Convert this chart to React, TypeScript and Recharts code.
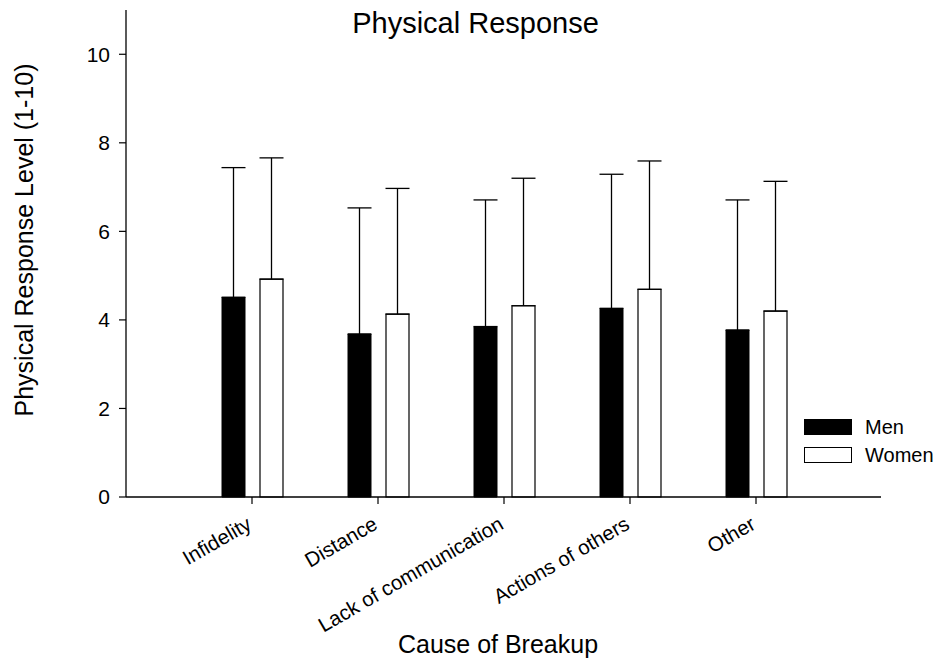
import React from "react";
import { BarChart, Bar, XAxis, YAxis, ErrorBar, Legend } from "recharts";

const causes = ["Infidelity", "Distance", "Lack of communication", "Actions of others", "Other"];
const menMeans = [4.51, 3.68, 3.85, 4.26, 3.77];
const menErrors = [2.93, 2.85, 2.86, 3.03, 2.94];
const womenMeans = [4.92, 4.13, 4.32, 4.69, 4.2];
const womenErrors = [2.74, 2.84, 2.88, 2.9, 2.93];
const yTicks = [0, 2, 4, 6, 8, 10];

const title = "Physical Response";
const xLabel = "Cause of Breakup";
const yLabel = "Physical Response Level (1-10)";

const data = causes.map((c, i) => ({
  cause: c,
  men: menMeans[i],
  menErr: [0, menErrors[i]],
  women: womenMeans[i],
  womenErr: [0, womenErrors[i]],
}));

const FONT = "'Liberation Sans', Arial, Helvetica, sans-serif";

const AngledTick = (props: any) => {
  const { x, y, payload } = props;
  const ax = x + 1;
  const ay = y + 22;
  return (
    <text
      x={ax}
      y={ay}
      textAnchor="end"
      transform={`rotate(-30, ${ax}, ${ay})`}
      fontSize={20.5}
      fontFamily={FONT}
      fill="#000"
    >
      {payload.value}
    </text>
  );
};

const LegendContent = () => (
  <div style={{ fontFamily: FONT, fontSize: 20, color: "#000" }}>
    <div style={{ display: "flex", alignItems: "center", height: 28 }}>
      <div style={{ width: 48, height: 16, background: "#000", boxSizing: "border-box" }} />
      <span style={{ marginLeft: 13 }}>Men</span>
    </div>
    <div style={{ display: "flex", alignItems: "center", height: 28 }}>
      <div style={{ width: 48, height: 16, background: "#fff", border: "1px solid #000", boxSizing: "border-box" }} />
      <span style={{ marginLeft: 13 }}>Women</span>
    </div>
  </div>
);

export default function App() {
  return (
    <div style={{ position: "absolute", left: 0, top: 0, width: 940, height: 662, background: "#fff" }}>
      <BarChart
        width={940}
        height={662}
        data={data}
        margin={{ top: 10, right: 59, bottom: 65, left: 66 }}
        barSize={23}
        barGap={15}
      >
        <XAxis
          dataKey="cause"
          type="category"
          padding={{ left: 63, right: 62 }}
          height={100}
          tickSize={7}
          interval={0}
          tick={<AngledTick />}
          axisLine={{ stroke: "#000", strokeWidth: 1.3 }}
          tickLine={{ stroke: "#000", strokeWidth: 1.2 }}
        />
        <YAxis
          type="number"
          domain={[0, 11]}
          ticks={yTicks}
          width={60}
          tickSize={7}
          tickMargin={9}
          tick={{ fontSize: 21, fontFamily: FONT, fill: "#000" }}
          axisLine={{ stroke: "#000", strokeWidth: 1.3 }}
          tickLine={{ stroke: "#000", strokeWidth: 1.2 }}
        />
        <Legend
          layout="vertical"
          align="center"
          verticalAlign="middle"
          content={<LegendContent />}
          wrapperStyle={{ position: "absolute", left: 804, top: 413, width: 130 }}
        />
        <Bar dataKey="men" name="Men" fill="#000" stroke="#000" strokeWidth={1} isAnimationActive={false}>
          <ErrorBar dataKey="menErr" width={12} stroke="#000" strokeWidth={1.3} direction="y" isAnimationActive={false} />
        </Bar>
        <Bar dataKey="women" name="Women" fill="#fff" stroke="#000" strokeWidth={1.2} isAnimationActive={false}>
          <ErrorBar dataKey="womenErr" width={12} stroke="#000" strokeWidth={1.3} direction="y" isAnimationActive={false} />
        </Bar>
      </BarChart>
      <svg
        width={940}
        height={662}
        style={{ position: "absolute", left: 0, top: 0, pointerEvents: "none" }}
      >
        <text x={475.5} y={33} textAnchor="middle" fontSize={29} fontFamily={FONT} fill="#000">
          {title}
        </text>
        <text x={498} y={653} textAnchor="middle" fontSize={25} fontFamily={FONT} fill="#000">
          {xLabel}
        </text>
        <text
          x={33}
          y={240}
          textAnchor="middle"
          fontSize={25}
          fontFamily={FONT}
          fill="#000"
          transform="rotate(-90, 33, 240)"
        >
          {yLabel}
        </text>
      </svg>
    </div>
  );
}
